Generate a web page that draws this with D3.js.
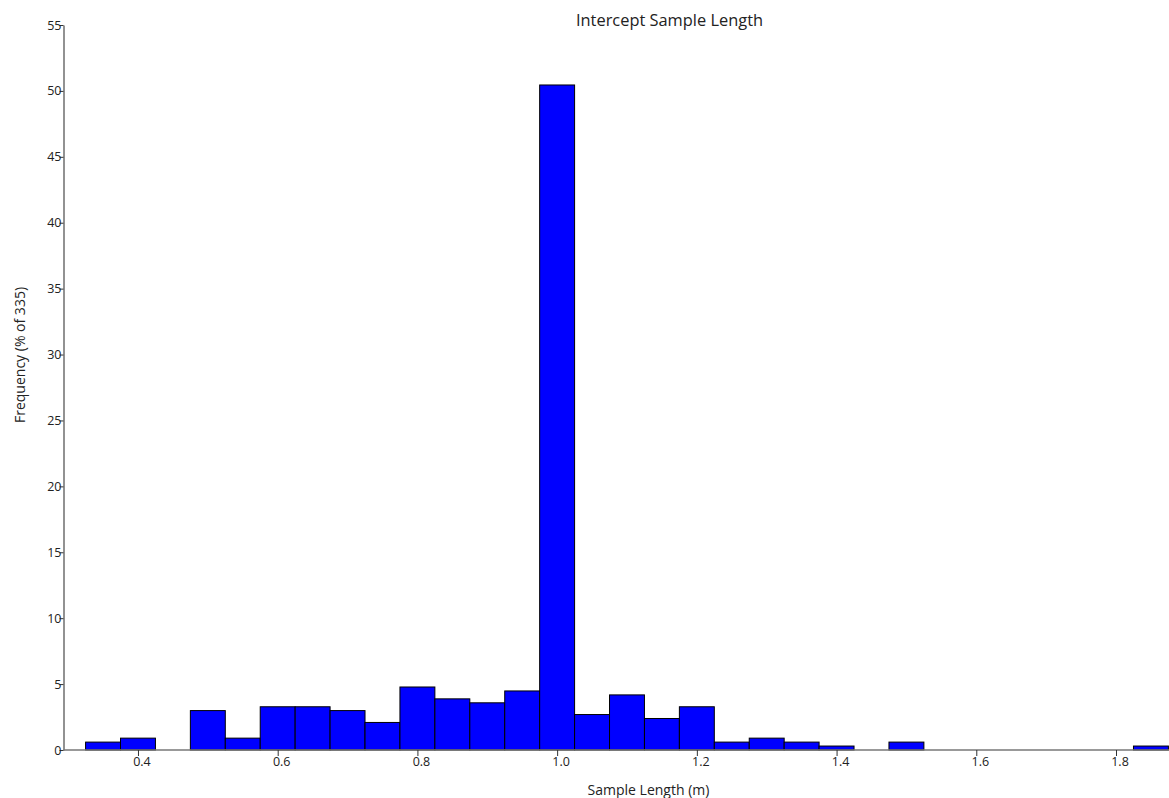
<!DOCTYPE html>
<html><head><meta charset="utf-8">
<script src="https://cdn.jsdelivr.net/npm/d3@7"></script>
<style>body{margin:0;background:#fff}svg{display:block}text{font-family:"Open Sans",sans-serif;fill:#222}</style>
</head><body>
<script>
const title = "Intercept Sample Length";
const xLabel = "Sample Length (m)";
const yLabel = "Frequency (% of 335)";
const binCenters = [0.35,0.40,0.50,0.55,0.60,0.65,0.70,0.75,0.80,0.85,0.90,0.95,1.00,1.05,1.10,1.15,1.20,1.25,1.30,1.35,1.40,1.50,1.85];
const frequency  = [0.60,0.90,2.99,0.90,3.28,3.28,2.99,2.09,4.78,3.88,3.58,4.48,50.45,2.69,4.18,2.39,3.28,0.60,0.90,0.60,0.30,0.60,0.30];
const binWidth = 0.05;
const xTicks = [0.4,0.6,0.8,1.0,1.2,1.4,1.6,1.8];
const yTicks = [0,5,10,15,20,25,30,35,40,45,50,55];

const W = 1169, H = 798;
const svg = d3.select("body").append("svg").attr("width",W).attr("height",H);
const x = d3.scaleLinear().domain([0.2934,1.875]).range([63.5,1168.4]);
const y = d3.scaleLinear().domain([0,55]).range([750,25]);

svg.append("g").selectAll("rect").data(binCenters).join("rect")
  .attr("x",(d)=>x(d-binWidth/2))
  .attr("width",(d)=>x(d+binWidth/2)-x(d-binWidth/2))
  .attr("y",(d,i)=>y(frequency[i]))
  .attr("height",(d,i)=>y(0)-y(frequency[i]))
  .attr("fill","#0000ff").attr("stroke","#000").attr("stroke-width",1);

const xa = svg.append("g").attr("transform","translate(0,750)")
  .call(d3.axisBottom(x).tickValues(xTicks).tickFormat(d3.format(".1f")).tickSize(6).tickSizeOuter(0));
xa.select(".domain").attr("stroke","#777").attr("stroke-width",1.6).attr("d","M63.5,0H1169");
xa.selectAll(".tick line").attr("stroke","#333");
xa.selectAll(".tick text").attr("dx",3.5).attr("y",7).attr("font-size",12.5).style("font-family","Open Sans").attr("fill","#222");

const ya = svg.append("g").attr("transform","translate(63.5,0)")
  .call(d3.axisLeft(y).tickValues(yTicks).tickSize(4).tickSizeOuter(0).tickPadding(-2));
ya.select(".domain").attr("stroke","#777").attr("stroke-width",1.6);
ya.selectAll(".tick line").attr("stroke","#333");
ya.selectAll(".tick text").attr("font-size",12.5).style("font-family","Open Sans").attr("fill","#222");

svg.append("text").attr("x",669.5).attr("y",26).attr("text-anchor","middle").attr("font-size",16.4).text(title);
svg.append("text").attr("x",648.5).attr("y",795).attr("text-anchor","middle").attr("font-size",14).text(xLabel);
svg.append("text").attr("transform","translate(25,355) rotate(-90)").attr("text-anchor","middle").attr("font-size",14).text(yLabel);
</script>
</body></html>
